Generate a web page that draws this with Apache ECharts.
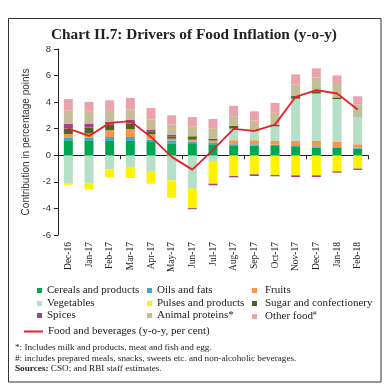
<!DOCTYPE html>
<html>
<head>
<meta charset="utf-8">
<script src="https://cdn.jsdelivr.net/npm/echarts@6/dist/echarts.min.js"></script>
<style>html,body{margin:0;padding:0;background:#fff}#c{width:388px;height:390px}</style>
</head>
<body>
<div id="c"></div>
<script>
var categories = ['Dec-16','Jan-17','Feb-17','Mar-17','Apr-17','May-17','Jun-17','Jul-17','Aug-17','Sep-17','Oct-17','Nov-17','Dec-17','Jan-18','Feb-18'];
var cereals    = [1.13,1.13,1.08,1.08,1.00,0.90,0.85,0.83,0.75,0.73,0.70,0.68,0.58,0.58,0.50];
var oils       = [0.18,0.18,0.30,0.30,0.18,0.22,0.18,0.13,0.08,0.10,0.10,0.08,0.10,0.05,0.08];
var fruits     = [0.28,0.33,0.50,0.58,0.40,0.13,0.15,0.15,0.30,0.30,0.28,0.33,0.40,0.38,0.25];
var vegetables = [-2.09,-2.14,-1.06,-0.93,-1.18,-1.89,-2.52,-0.50,0.88,0.68,1.10,3.17,3.57,3.22,2.11];
var pulses     = [-0.13,-0.45,-0.58,-0.78,-0.96,-1.31,-1.46,-1.64,-1.56,-1.43,-1.48,-1.51,-1.51,-1.21,-1.00];
var sugar      = [0.43,0.45,0.45,0.43,0.18,0.18,0.25,0.13,0.20,0.10,0.13,0.20,0.18,0.13,0.05];
var spices     = [0.35,0.30,0.18,0.30,0.18,0.13,-0.08,-0.12,-0.10,-0.13,-0.10,-0.13,-0.13,-0.10,-0.10];
var animal     = [0.98,0.88,0.83,0.75,0.75,0.75,0.75,0.80,0.73,0.70,0.88,0.88,1.03,1.00,0.85];
var other      = [0.88,0.75,0.80,0.88,0.86,0.70,0.70,0.70,0.78,0.70,0.75,0.75,0.68,0.65,0.60];
var food       = [2.00,1.46,2.44,2.57,1.38,-0.12,-1.08,0.40,1.99,1.84,2.31,4.40,4.90,4.65,3.45];
var yTicks = {min:-6, max:8, interval:2};

var barNames = ['Cereals and products','Oils and fats','Fruits','Vegetables','Pulses and products','Sugar and confectionery','Spices','Animal proteins*','Other food'];
var barData = [cereals, oils, fruits, vegetables, pulses, sugar, spices, animal, other];
var barColors = ['#00a651','#3fa9c4','#f7964a','#b5dfc6','#fff200','#4f6228','#a3418a','#c4bd97','#e8a3ab'];
var lineName = 'Food and beverages (y-o-y, per cent)';

var serif = 'Liberation Serif';
var sans = 'Liberation Sans';

var series = barNames.map(function(n,i){
  return {name:n, type:'bar', stack:'s', barWidth:9, data:barData[i], itemStyle:{color:barColors[i]}, xAxisIndex:0};
});
series.push({name:lineName, type:'line', data:food, showSymbol:false, symbol:'none', lineStyle:{color:'#e8202a', width:1.8}, itemStyle:{color:'#e8202a'}, z:10, xAxisIndex:0});

// legend layout: [name, iconLeft, centerY]
var legendPos = [
  [barNames[0], 37, 292], [barNames[1], 147, 292], [barNames[2], 252, 292],
  [barNames[3], 37, 305], [barNames[4], 147, 305], [barNames[5], 252, 305],
  [barNames[6], 37, 317], [barNames[7], 147, 317], [barNames[8], 252, 317]
];
var legends = legendPos.map(function(p, i){
  var col3 = (i % 3 === 2);
  var lg = {data:[p[0]], left:p[1], top:p[2]-7, icon:'rect', itemWidth:5, itemHeight:5, padding:0,
    textStyle:{fontFamily:serif, fontSize:11, color:'#222', padding: col3 ? [0,0,0,3] : 0}};
  if (p[0] === 'Other food') {
    lg.formatter = function(){ return '{n|Other food}{s|#}'; };
    lg.textStyle.rich = {n:{fontFamily:serif, fontSize:11, color:'#222'}, s:{fontFamily:serif, fontSize:7, color:'#222', padding:[0,0,6,0]}};
  }
  return lg;
});
legends.push({data:[lineName], left:24, top:326, icon:'rect', itemWidth:19, itemHeight:2, padding:0,
  itemStyle:{color:'#e8202a'}, textStyle:{fontFamily:serif, fontSize:11, color:'#222'}});

var chart = echarts.init(document.getElementById('c'), null, {renderer:'canvas'});
chart.setOption({
  backgroundColor:'#fff',
  animation:false,
  title:{text:'Chart II.7: Drivers of Food Inflation (y-o-y)', left:'center', top:23,
    textStyle:{fontFamily:serif, fontWeight:'bold', fontSize:15.3, color:'#222'}},
  grid:{left:58, right:20, top:49, bottom:155},
  legend:legends,
  xAxis:[
    {type:'category', data:categories, axisLine:{onZero:true, lineStyle:{color:'#222', width:1}},
     axisTick:{show:true, length:4, lineStyle:{color:'#222'}}, axisLabel:{show:false}, splitLine:{show:false}},
    {type:'category', data:categories, position:'bottom', gridIndex:0,
     axisLine:{show:false, onZero:false}, axisTick:{show:false}, splitLine:{show:false},
     axisLabel:{rotate:90, fontFamily:serif, fontSize:9.5, color:'#222', margin:7}}
  ],
  yAxis:{type:'value', min:yTicks.min, max:yTicks.max, interval:yTicks.interval,
    name:'Contribution in percentage points', nameLocation:'middle', nameGap:27,
    nameTextStyle:{fontFamily:sans, fontSize:10, color:'#333'},
    axisLine:{show:true, lineStyle:{color:'#222'}}, axisTick:{show:true, length:4, lineStyle:{color:'#222'}},
    axisLabel:{fontFamily:sans, fontSize:9.5, color:'#333', margin:7}, splitLine:{show:false}},
  graphic:[
    {type:'rect', shape:{x:8.5, y:18.5, width:372.5, height:363.5}, style:{fill:'none', stroke:'#333', lineWidth:1}, silent:true},
    {type:'text', left:15, top:343, style:{text:'*: Includes milk and products, meat and fish and egg.', font:'9.2px "Liberation Serif"', fill:'#222'}},
    {type:'text', left:15, top:354, style:{text:'#: includes prepared meals, snacks, sweets etc. and non-alcoholic beverages.', font:'9.2px "Liberation Serif"', fill:'#222'}},
    {type:'text', left:15, top:364, style:{text:'{b|Sources:} CSO; and RBI staff estimates.', font:'9.2px "Liberation Serif"', fill:'#222',
      rich:{b:{fontWeight:'bold', fontFamily:serif, fontSize:9.2, fill:'#222'}}}}
  ],
  series:series
});
</script>
</body>
</html>
